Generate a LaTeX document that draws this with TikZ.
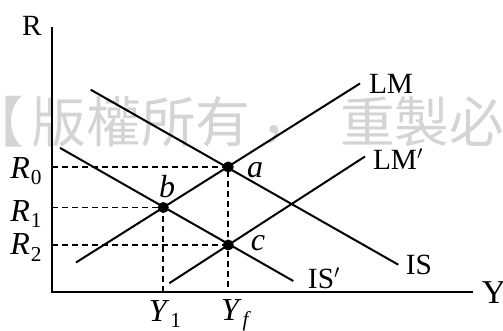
\documentclass[tikz,border=0pt]{standalone}
\usepackage{fontspec}
\setmainfont{Liberation Serif}
\newfontfamily\cjkfont[Script=CJK,Language=Chinese Traditional]{Noto Sans CJK TC}
\newcommand\mlab[2]{\textit{#1}\kern0.03em\raisebox{-0.2em}{\fontsize{16}{18}\selectfont #2}}
\begin{document}
\begin{tikzpicture}[x=0.75pt,y=-0.75pt,
  curve/.style={line width=1.5pt},
  axisline/.style={line width=1.6pt},
  guide/.style={line width=1.3pt, dash pattern=on 4.5pt off 3pt},
  dot/.style={circle, fill=black, inner sep=0pt, minimum size=8.25pt},
  lbl/.style={inner sep=0pt, font=\fontsize{22}{26}\selectfont},
  mlbl/.style={inner sep=0pt, font=\fontsize{24}{28}\selectfont},
  wm/.style={inner sep=0pt, text=black!17, font=\cjkfont\fontsize{41}{45}\selectfont}]
\useasboundingbox (0,0) rectangle (503,331);
% watermark
\node[wm, anchor=west] (wm0) at (-31,122) {【};
\node[wm, anchor=west] (wm1) at (31.5,122) {版權所有};
\node[wm] (wmc) at (274,140) {，};
\node[wm, anchor=west] (wm2) at (340,122) {重製必};
% axes
\coordinate (O) at (52,292);
\coordinate (Rtop) at (52,27);
\coordinate (Yend) at (473,292);
\draw[axisline] (Rtop) -- (O) -- (Yend);
\node[lbl] (Rl) at (32,26) {R};
\node[lbl, font=\fontsize{25}{28}\selectfont] (Yl) at (494,293) {Y};
% curve end points
\coordinate (LM1) at (76,262.5);
\coordinate (LM2) at (360,83.5);
\coordinate (LMp1) at (169.3,283.2);
\coordinate (LMp2) at (365,156.5);
\coordinate (IS1) at (90.7,89.7);
\coordinate (IS2) at (398.3,264.7);
\coordinate (ISp1) at (60,147.9);
\coordinate (ISp2) at (293.3,281);
% axis feet
\coordinate (R0ax) at (52,167);
\coordinate (R1ax) at (52,207.5);
\coordinate (R2ax) at (52,245);
\coordinate (Y1ax) at (163.3,292);
\coordinate (Yfax) at (228.3,292);
% equilibrium points
\coordinate (a) at (228.3,167);
\coordinate (b) at (163.3,207.5);
\coordinate (c) at (228.3,245);
% guides
\draw[guide] (R0ax) -- (a) -- (Yfax);
\draw[guide] (R1ax) -- (b) -- (Y1ax);
\draw[guide] (R2ax) -- (c);
% curves
\draw[curve] (LM1) -- (LM2);
\draw[curve] (LMp1) -- (LMp2);
\draw[curve] (IS1) -- (IS2);
\draw[curve] (ISp1) -- (ISp2);
\node[dot] (adot) at (a) {};
\node[dot] (bdot) at (b) {};
\node[dot] (cdot) at (c) {};
% labels
\node[lbl] (LMl) at (391,84) {LM};
\node[lbl] (LMpl) at (398,159) {LM$'$};
\node[lbl] (ISl) at (419,265) {IS};
\node[lbl] (ISpl) at (324,278) {IS$'$};
\node[mlbl] (R0l) at (26,171) {\mlab{R}{0}};
\node[mlbl] (R1l) at (26,214) {\mlab{R}{1}};
\node[mlbl] (R2l) at (26,247.5) {\mlab{R}{2}};
\node[mlbl] (Y1l) at (165,314) {\mlab{Y}{1}};
\node[mlbl] (Yfl) at (236,315) {\mlab{Y}{\textit{f}}};
\node[mlbl] (al) at (255,170) {\textit{a}};
\node[mlbl] (bl) at (167,187) {\textit{b}};
\node[mlbl] (cl) at (258,243) {\textit{c}};
\end{tikzpicture}
\end{document}
